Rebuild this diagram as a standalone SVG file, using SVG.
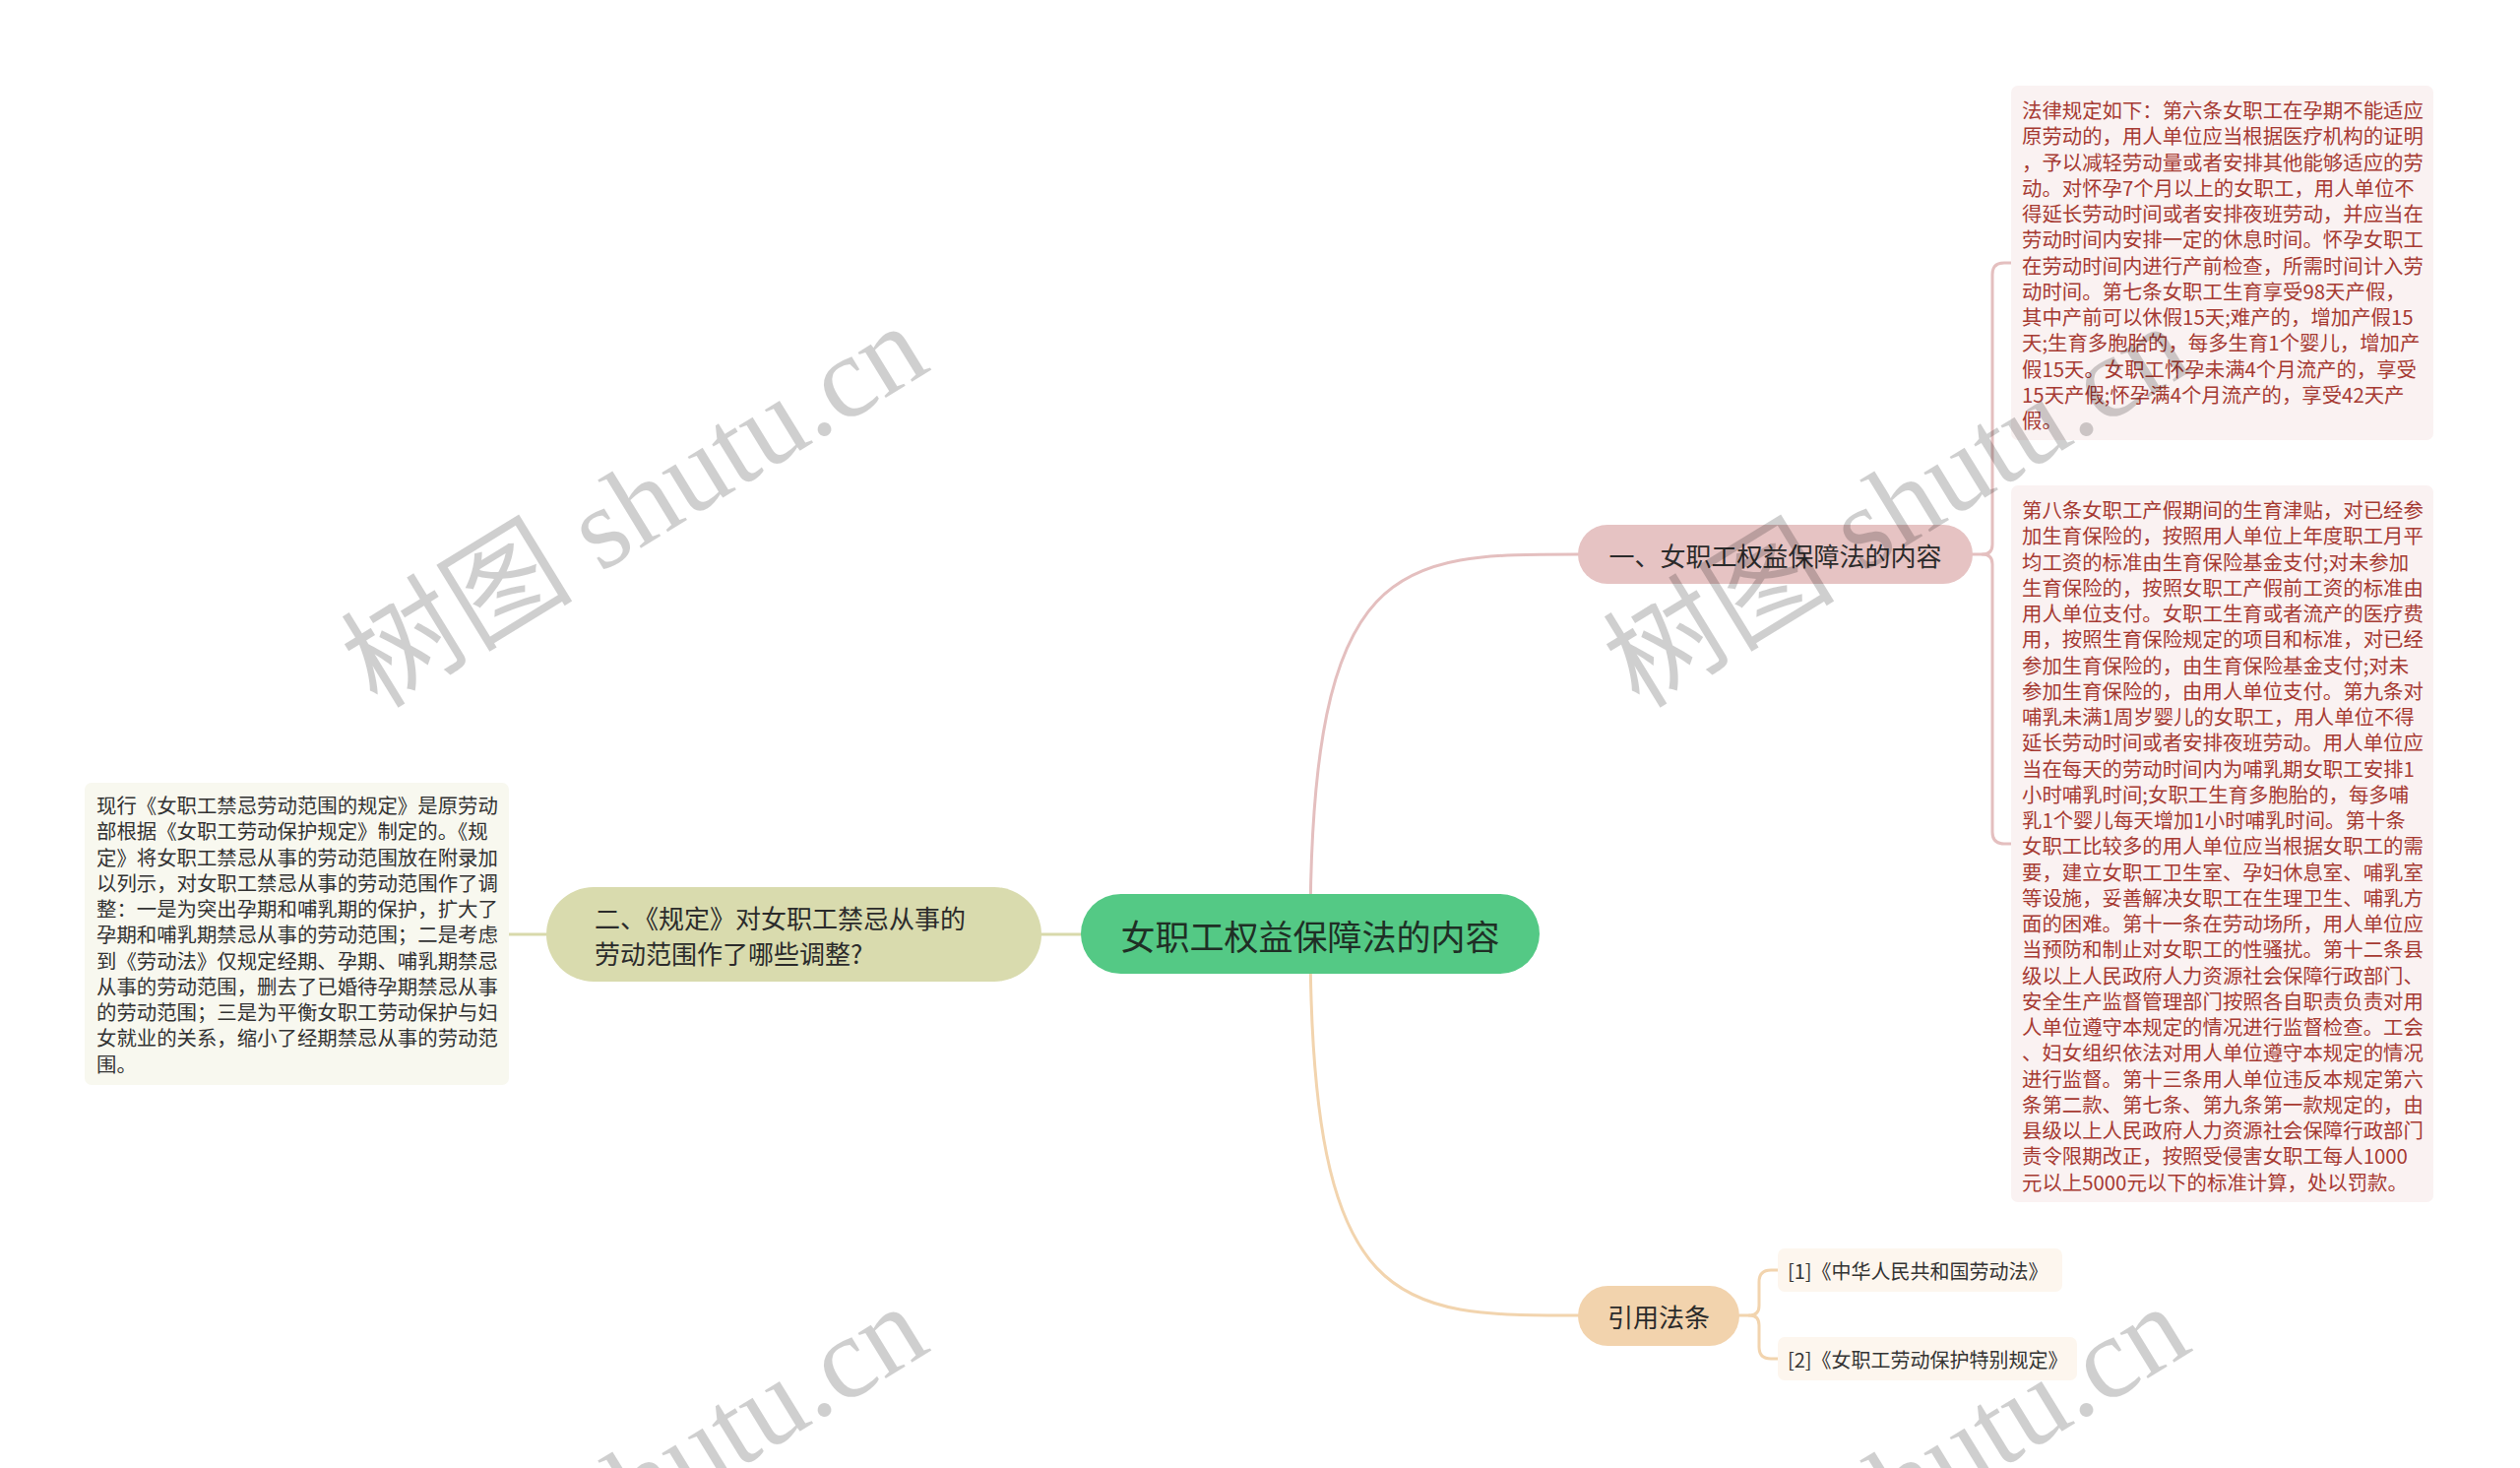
<svg xmlns="http://www.w3.org/2000/svg" width="2560" height="1491" viewBox="0 0 2560 1491">
<style>
text { font-family: "Noto Sans CJK SC", "Noto Sans", sans-serif; }
.ctr { text-anchor: middle; dominant-baseline: central; }
.leafR { fill: #a63a32; font-size: 20.4px; dominant-baseline: central; }
.leafL { fill: #333333; font-size: 20.4px; dominant-baseline: central; }
.br { fill: #2b2b2b; font-size: 26px; }
.ref { fill: #333333; font-size: 20px; dominant-baseline: central; }
.conn { fill: none; stroke-width: 3; stroke-linecap: round; }
.wm { font-family: "Liberation Serif", "Noto Sans CJK SC", serif; font-size: 118px; fill: #000000; fill-opacity: 0.19; text-anchor: middle; dominant-baseline: central; }
</style>
<rect x="0" y="0" width="2560" height="1491" fill="#ffffff"/>

<g id="connectors">
  <path class="conn" stroke="#e4bfbf" d="M1331 949 C1331 563 1420 563 1603 563"/>
  <path class="conn" stroke="#f2d4ae" d="M1331 949 C1331 1336 1420 1336 1603 1336"/>
  <path class="conn" stroke="#d8d9ab" d="M1098 949 L1058 949"/>
  <path class="conn" stroke="#d8d9ab" d="M555 949 L517 949"/>
  <path class="conn" stroke="#e4bfbf" stroke-width="2.5" d="M2004 563 L2014 563 Q2024 563 2024 553 L2024 279 Q2024 267 2036 267 L2043 267"/>
  <path class="conn" stroke="#e4bfbf" stroke-width="2.5" d="M2014 563 Q2024 563 2024 573 L2024 845 Q2024 857 2036 857 L2043 857"/>
  <path class="conn" stroke="#f2d4ae" stroke-width="2.5" d="M1767 1336 L1777 1336 Q1787 1336 1787 1326 L1787 1302 Q1787 1290 1799 1290 L1806 1290"/>
  <path class="conn" stroke="#f2d4ae" stroke-width="2.5" d="M1777 1336 Q1787 1336 1787 1346 L1787 1368 Q1787 1380 1799 1380 L1806 1380"/>
</g>

<g id="center">
  <rect x="1098" y="908" width="466" height="81" rx="40.5" fill="#54c985"/>
  <text class="ctr" x="1331" y="949" font-size="35" fill="#1f2f25">女职工权益保障法的内容</text>
</g>

<g id="branch1">
  <rect x="1603" y="533" width="401" height="60" rx="30" fill="#e6c3c3"/>
  <text class="ctr br" x="1803.5" y="563">一、女职工权益保障法的内容</text>
</g>

<g id="branch2">
  <rect x="555" y="901" width="503" height="96" rx="48" fill="#d9dbae"/>
  <text class="br" x="604" y="931" dominant-baseline="central">二、《规定》对女职工禁忌从事的</text>
  <text class="br" x="604" y="967" dominant-baseline="central">劳动范围作了哪些调整?</text>
</g>

<g id="branch3">
  <rect x="1603" y="1306" width="164" height="61" rx="30.5" fill="#f2d3ad"/>
  <text class="ctr br" x="1685" y="1336">引用法条</text>
</g>

<g id="leaf1">
  <rect x="2043" y="87" width="429" height="360" rx="7" fill="#faf2f2"/>
  <text class="leafR" x="2054" y="111">
    <tspan x="2054" y="111">法律规定如下：第六条女职工在孕期不能适应</tspan>
    <tspan x="2054" dy="26.25">原劳动的，用人单位应当根据医疗机构的证明</tspan>
    <tspan x="2054" dy="26.25">，予以减轻劳动量或者安排其他能够适应的劳</tspan>
    <tspan x="2054" dy="26.25">动。对怀孕7个月以上的女职工，用人单位不</tspan>
    <tspan x="2054" dy="26.25">得延长劳动时间或者安排夜班劳动，并应当在</tspan>
    <tspan x="2054" dy="26.25">劳动时间内安排一定的休息时间。怀孕女职工</tspan>
    <tspan x="2054" dy="26.25">在劳动时间内进行产前检查，所需时间计入劳</tspan>
    <tspan x="2054" dy="26.25">动时间。第七条女职工生育享受98天产假，</tspan>
    <tspan x="2054" dy="26.25">其中产前可以休假15天;难产的，增加产假15</tspan>
    <tspan x="2054" dy="26.25">天;生育多胞胎的，每多生育1个婴儿，增加产</tspan>
    <tspan x="2054" dy="26.25">假15天。女职工怀孕未满4个月流产的，享受</tspan>
    <tspan x="2054" dy="26.25">15天产假;怀孕满4个月流产的，享受42天产</tspan>
    <tspan x="2054" dy="26.25">假。</tspan>
  </text>
</g>

<g id="leaf2">
  <rect x="2043" y="493" width="429" height="728" rx="7" fill="#faf2f2"/>
  <text class="leafR" x="2054" y="517">
    <tspan x="2054" y="517">第八条女职工产假期间的生育津贴，对已经参</tspan>
    <tspan x="2054" dy="26.25">加生育保险的，按照用人单位上年度职工月平</tspan>
    <tspan x="2054" dy="26.25">均工资的标准由生育保险基金支付;对未参加</tspan>
    <tspan x="2054" dy="26.25">生育保险的，按照女职工产假前工资的标准由</tspan>
    <tspan x="2054" dy="26.25">用人单位支付。女职工生育或者流产的医疗费</tspan>
    <tspan x="2054" dy="26.25">用，按照生育保险规定的项目和标准，对已经</tspan>
    <tspan x="2054" dy="26.25">参加生育保险的，由生育保险基金支付;对未</tspan>
    <tspan x="2054" dy="26.25">参加生育保险的，由用人单位支付。第九条对</tspan>
    <tspan x="2054" dy="26.25">哺乳未满1周岁婴儿的女职工，用人单位不得</tspan>
    <tspan x="2054" dy="26.25">延长劳动时间或者安排夜班劳动。用人单位应</tspan>
    <tspan x="2054" dy="26.25">当在每天的劳动时间内为哺乳期女职工安排1</tspan>
    <tspan x="2054" dy="26.25">小时哺乳时间;女职工生育多胞胎的，每多哺</tspan>
    <tspan x="2054" dy="26.25">乳1个婴儿每天增加1小时哺乳时间。第十条</tspan>
    <tspan x="2054" dy="26.25">女职工比较多的用人单位应当根据女职工的需</tspan>
    <tspan x="2054" dy="26.25">要，建立女职工卫生室、孕妇休息室、哺乳室</tspan>
    <tspan x="2054" dy="26.25">等设施，妥善解决女职工在生理卫生、哺乳方</tspan>
    <tspan x="2054" dy="26.25">面的困难。第十一条在劳动场所，用人单位应</tspan>
    <tspan x="2054" dy="26.25">当预防和制止对女职工的性骚扰。第十二条县</tspan>
    <tspan x="2054" dy="26.25">级以上人民政府人力资源社会保障行政部门、</tspan>
    <tspan x="2054" dy="26.25">安全生产监督管理部门按照各自职责负责对用</tspan>
    <tspan x="2054" dy="26.25">人单位遵守本规定的情况进行监督检查。工会</tspan>
    <tspan x="2054" dy="26.25">、妇女组织依法对用人单位遵守本规定的情况</tspan>
    <tspan x="2054" dy="26.25">进行监督。第十三条用人单位违反本规定第六</tspan>
    <tspan x="2054" dy="26.25">条第二款、第七条、第九条第一款规定的，由</tspan>
    <tspan x="2054" dy="26.25">县级以上人民政府人力资源社会保障行政部门</tspan>
    <tspan x="2054" dy="26.25">责令限期改正，按照受侵害女职工每人1000</tspan>
    <tspan x="2054" dy="26.25">元以上5000元以下的标准计算，处以罚款。</tspan>
  </text>
</g>

<g id="leaf3">
  <rect x="86" y="795" width="431" height="307" rx="7" fill="#f8f8ef"/>
  <text class="leafL" x="98" y="817">
    <tspan x="98" y="817">现行《女职工禁忌劳动范围的规定》是原劳动</tspan>
    <tspan x="98" dy="26.25">部根据《女职工劳动保护规定》制定的。《规</tspan>
    <tspan x="98" dy="26.25">定》将女职工禁忌从事的劳动范围放在附录加</tspan>
    <tspan x="98" dy="26.25">以列示，对女职工禁忌从事的劳动范围作了调</tspan>
    <tspan x="98" dy="26.25">整：一是为突出孕期和哺乳期的保护，扩大了</tspan>
    <tspan x="98" dy="26.25">孕期和哺乳期禁忌从事的劳动范围；二是考虑</tspan>
    <tspan x="98" dy="26.25">到《劳动法》仅规定经期、孕期、哺乳期禁忌</tspan>
    <tspan x="98" dy="26.25">从事的劳动范围，删去了已婚待孕期禁忌从事</tspan>
    <tspan x="98" dy="26.25">的劳动范围；三是为平衡女职工劳动保护与妇</tspan>
    <tspan x="98" dy="26.25">女就业的关系，缩小了经期禁忌从事的劳动范</tspan>
    <tspan x="98" dy="26.25">围。</tspan>
  </text>
</g>

<g id="ref1">
  <rect x="1806" y="1268" width="289" height="44" rx="7" fill="#fdf6ee"/>
  <text class="ref" x="1816" y="1290">[1]《中华人民共和国劳动法》</text>
</g>

<g id="ref2">
  <rect x="1806" y="1358" width="304" height="44" rx="7" fill="#fdf6ee"/>
  <text class="ref" x="1816" y="1380">[2]《女职工劳动保护特别规定》</text>
</g>

<g id="watermarks">
  <text class="wm" x="645" y="514" transform="rotate(-31.5 645 514)">树图 shutu.cn</text>
  <text class="wm" x="1927" y="514" transform="rotate(-31.5 1927 514)">树图 shutu.cn</text>
  <text class="wm" x="645" y="1510" transform="rotate(-31.5 645 1510)">树图 shutu.cn</text>
  <text class="wm" x="1927" y="1510" transform="rotate(-31.5 1927 1510)">树图 shutu.cn</text>
</g>
</svg>
